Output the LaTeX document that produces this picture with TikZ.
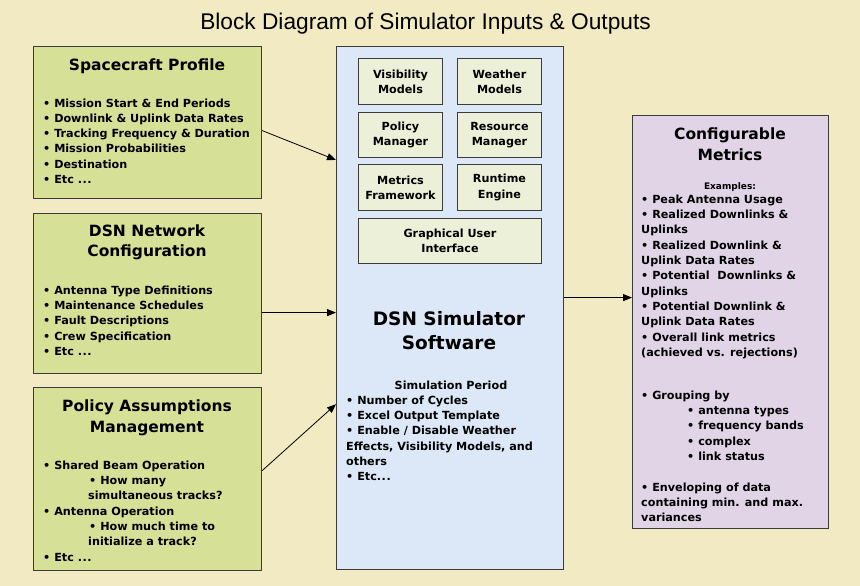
\documentclass[tikz,border=0pt]{standalone}
\usepackage{fontspec}
\setmainfont{DejaVu Sans}
\newfontfamily\titlefont{Liberation Sans}
\usetikzlibrary{arrows.meta}
\definecolor{bg}{RGB}{241,234,194}
\definecolor{grn}{RGB}{214,224,150}
\definecolor{blu}{RGB}{220,232,247}
\definecolor{inn}{RGB}{236,240,216}
\definecolor{lav}{RGB}{224,212,230}
\definecolor{bord}{RGB}{60,60,60}
\newcommand{\mydots}{.\kern0.05em.\kern0.05em.}
\tikzset{
  box/.style={draw=bord, line width=1.2pt, anchor=north west, inner sep=0pt},
  inbox/.style={draw=bord, line width=1pt, fill=inn, anchor=north west, minimum width=84pt, minimum height=46pt, align=center, font=\bfseries\fontsize{11.2}{15.3}\selectfont, inner sep=0pt},
  ttl/.style={font=\bfseries\fontsize{15.5}{20.7}\selectfont, anchor=base, inner sep=0pt},
  bigttl/.style={font=\bfseries\fontsize{18.5}{24}\selectfont, anchor=base, inner sep=0pt},
  txt/.style={font=\bfseries\fontsize{11.2}{15.3}\selectfont, anchor=base west, inner sep=0pt},
  small/.style={font=\bfseries\fontsize{9}{11}\selectfont, anchor=base, inner sep=0pt},
  arr/.style={-{Triangle[length=9pt,width=7pt]}, line width=0.8pt},
}
\begin{document}
\begin{tikzpicture}[x=1pt,y=-1pt]
\useasboundingbox (0,0) rectangle (860,586);
\fill[bg] (0,0) rectangle (860,586);
% title
\node[anchor=base, inner sep=0pt, font=\titlefont\fontsize{22.7}{26}\selectfont] (title) at (425.5,30) {Block Diagram of Simulator Inputs \& Outputs};
% boxes
\node[box, fill=grn, minimum width=228pt, minimum height=152pt] (sc) at (33,46) {};
\node[box, fill=grn, minimum width=228pt, minimum height=160pt] (dsn) at (33,213) {};
\node[box, fill=grn, minimum width=228pt, minimum height=183pt] (pol) at (33,387) {};
\node[box, fill=blu, minimum width=227pt, minimum height=523pt] (sim) at (336,46) {};
\node[box, fill=lav, minimum width=196pt, minimum height=413pt] (met) at (632,115) {};
% inner boxes
\node[inbox] (vis) at (358,58) {Visibility\\Models};
\node[inbox] (wea) at (457,58) {Weather\\Models};
\node[inbox, minimum height=45pt] (polm) at (358,112) {Policy\\Manager};
\node[inbox, minimum height=45pt] (res) at (457,112) {Resource\\Manager};
\node[inbox] (mfw) at (358,164) {Metrics\\Framework};
\node[inbox] (rte) at (457,164) {Runtime\\Engine};
\node[inbox, minimum width=183pt, minimum height=45pt] (gui) at (358,218) {Graphical User\\Interface};
% titles
\node[ttl] (sct) at (147,70.7) {Spacecraft Profile};
\node[ttl] (dsnt1) at (147,236) {DSN Network};
\node[ttl] (dsnt2) at (147,256.7) {Configuration};
\node[ttl] (polt1) at (147,411) {Policy Assumptions};
\node[ttl] (polt2) at (147,432.3) {Management};
\node[bigttl] (simt1) at (449,325) {DSN Simulator};
\node[bigttl] (simt2) at (449,349.3) {Software};
\node[ttl] (mett1) at (730,139.3) {Configurable};
\node[ttl] (mett2) at (730,160) {Metrics};
% spacecraft text
\foreach \t [count=\i] in {{• Mission Start \& End Periods},{• Downlink \& Uplink Data Rates},{• Tracking Frequency \& Duration},{• Mission Probabilities},{• Destination},{• Etc \mydots}}
  \node[txt] (sc-\i) at (43,{107+15.3*(\i-1)}) {\t};
% dsn text
\foreach \t [count=\i] in {{• Antenna Type Definitions},{• Maintenance Schedules},{• Fault Descriptions},{• Crew Specification},{• Etc \mydots}}
  \node[txt] (dsn-\i) at (43,{294.3+15.3*(\i-1)}) {\t};
% policy text
\foreach \x/\t [count=\i] in {43/{• Shared Beam Operation},89/{• How many},88/{simultaneous tracks?},43/{• Antenna Operation},89/{• How much time to},88/{initialize a track?},43/{• Etc \mydots}}
  \node[txt] (pol-\i) at (\x,{469.3+15.3*(\i-1)}) {\t};
% simulator text
\node[txt, anchor=base] (simp) at (451,389.3) {Simulation Period};
\foreach \t [count=\i] in {{• Number of Cycles},{• Excel Output Template},{• Enable / Disable Weather},{Effects, Visibility Models, and},{others},{• Etc\mydots}}
  \node[txt] (sim-\i) at (346,{404.3+15.3*(\i-1)}) {\t};
% metrics text
\node[small] (ex) at (730,189) {Examples:};
\foreach \t [count=\i] in {{• Peak Antenna Usage},{• Realized Downlinks \&},{Uplinks},{• Realized Downlink \&},{Uplink Data Rates},{• Potential\ \ Downlinks \&},{Uplinks},{• Potential Downlink \&},{Uplink Data Rates},{• Overall link metrics},{(achieved vs. rejections)}}
  \node[txt] (met-\i) at (641,{203.3+15.3*(\i-1)}) {\t};
\foreach \x/\t [count=\i] in {641/{• Grouping by},687/{• antenna types},687/{• frequency bands},687/{• complex},687/{• link status}}
  \node[txt] (grp-\i) at (\x,{399.3+15.3*(\i-1)}) {\t};
\foreach \t [count=\i] in {{• Enveloping of data},{containing min. and max.},{variances}}
  \node[txt] (env-\i) at (641,{491+15.3*(\i-1)}) {\t};
% connectors
\coordinate (scout) at ([yshift=-8pt]sc.east);
\coordinate (simin1) at ([yshift=-114pt]sim.north west);
\coordinate (dsnout) at ([yshift=-19pt]dsn.east);
\coordinate (polout) at ([yshift=8.5pt]pol.east);
\coordinate (simin3) at ([yshift=166pt]sim.south west);
\coordinate (simout) at ([yshift=10.5pt]sim.east);
\draw[arr] (scout) -- (simin1);
\draw[arr] (dsnout) -- (dsnout -| sim.west);
\draw[arr] (polout) -- (simin3);
\draw[arr] (simout) -- (simout -| met.west);
\end{tikzpicture}
\end{document}
